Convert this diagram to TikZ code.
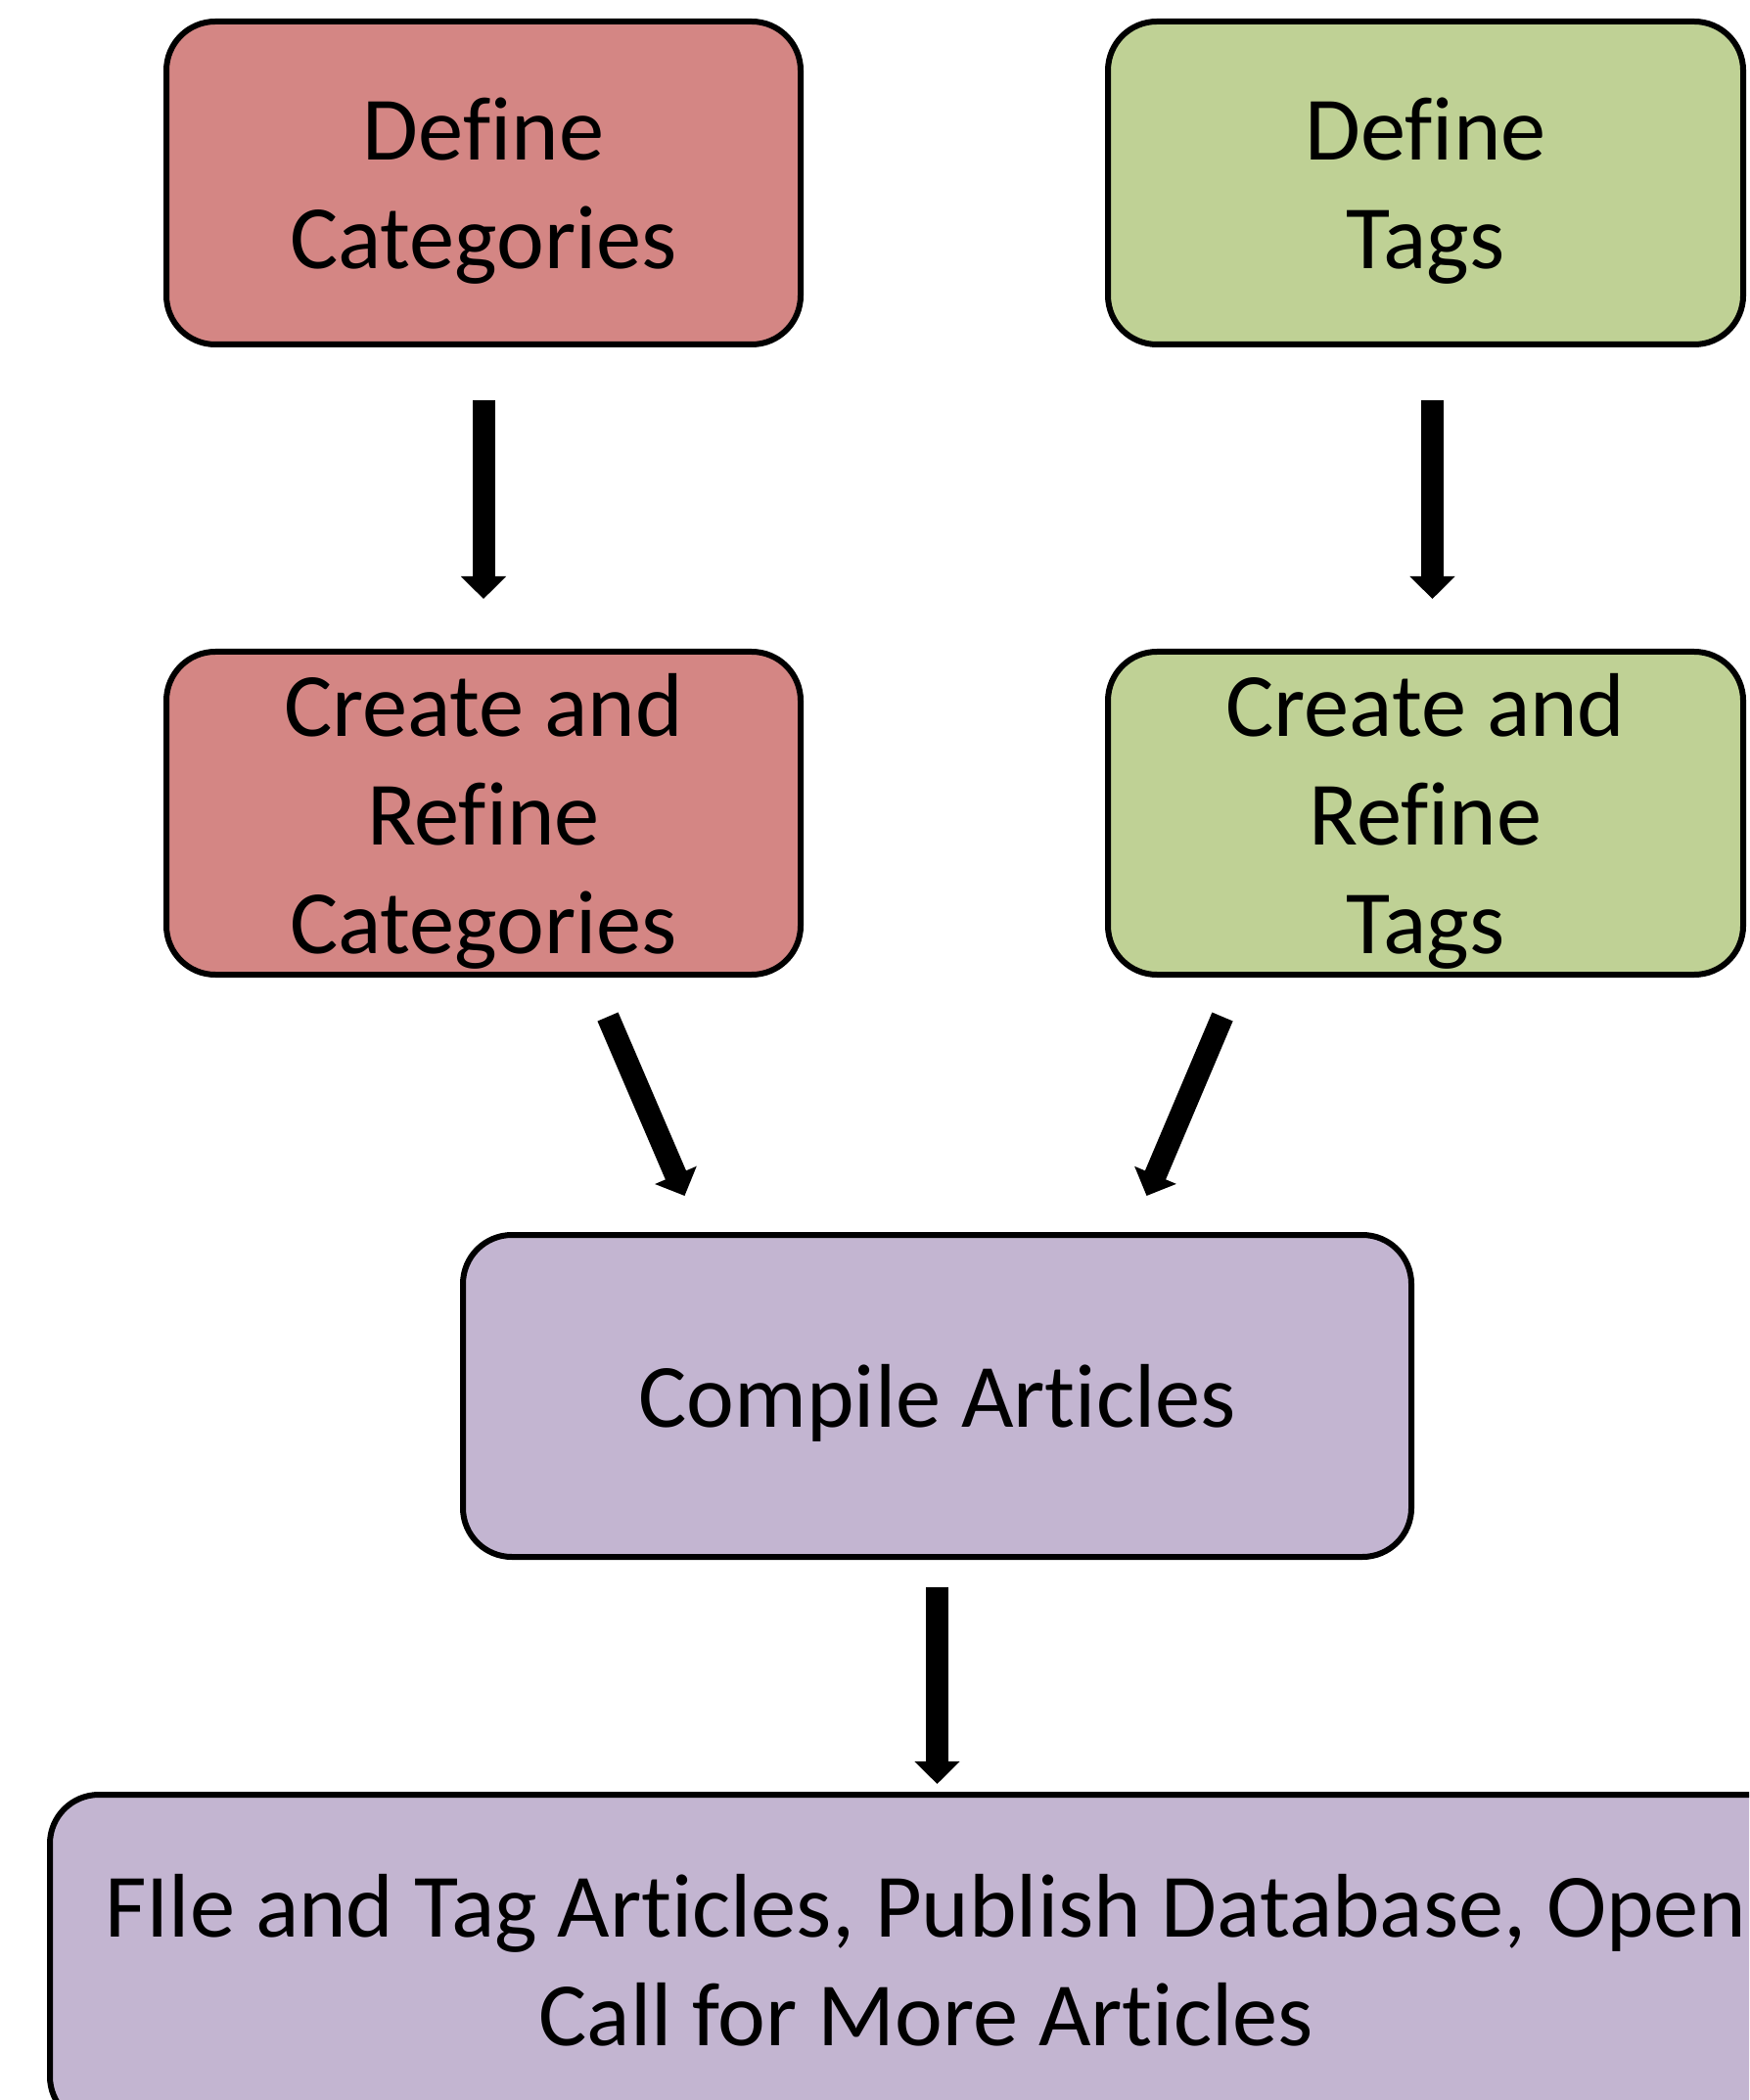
\documentclass[tikz,border=0pt]{standalone}
\usepackage{fontspec}
\setmainfont[Ligatures=CommonOff]{Carlito}
\usetikzlibrary{arrows.meta}

\definecolor{catred}{HTML}{D48684}
\definecolor{taggreen}{HTML}{BFD195}
\definecolor{artpurple}{HTML}{C3B5D1}

\begin{document}
\begin{tikzpicture}[
        stepbox/.style={draw, line width=0.06cm, rounded corners=0.5cm, inner sep=0pt,
            align=center, text depth=-0.8pt, font=\fontsize{26.3pt}{31.6pt}\selectfont},
        bigarrow/.style={line width=0.23cm, -{Triangle[width=0.45cm, length=0.23cm]}}
    ]
        \useasboundingbox (0, 0) rectangle (17.87, -21.46);
        \clip (0, 0) rectangle (17.87, -21.46);

        \node[stepbox, fill=catred, minimum width=6.48cm, minimum height=3.30cm] (dc) at (4.94, -1.87) {Define\\Categories};
        \node[stepbox, fill=taggreen, minimum width=6.49cm, minimum height=3.30cm] (dt) at (14.565, -1.87) {Define\\Tags};
        \node[stepbox, fill=catred, minimum width=6.48cm, minimum height=3.30cm] (cc) at (4.94, -8.31) {Create and\\Refine\\Categories};
        \node[stepbox, fill=taggreen, minimum width=6.49cm, minimum height=3.30cm] (ct) at (14.565, -8.31) {Create and\\Refine\\Tags};
        \node[stepbox, fill=artpurple, minimum width=9.69cm, minimum height=3.29cm] (ca) at (9.575, -14.265) {Compile Articles};
        \node[stepbox, fill=artpurple, minimum width=17.90cm, minimum height=3.38cm] (fa) at (9.46, -20.03) {FIle and Tag Articles, Publish Database, Open\\Call for More Articles};

        \draw[bigarrow, shorten <=0.54cm, shorten >=0.51cm] (dc.south) -- (cc.north);
        \draw[bigarrow, shorten <=0.54cm, shorten >=0.51cm] ([xshift=0.07cm]dt.south) -- ([xshift=0.07cm]ct.north);

        \draw[bigarrow] ([shift={(1.27, -0.40)}]cc.south) -- ([shift={(-2.58, 0.37)}]ca.north);
        \draw[bigarrow] ([shift={(-2.075, -0.40)}]ct.south) -- ([shift={(2.14, 0.37)}]ca.north);

        \draw[bigarrow, shorten <=0.28cm, shorten >=0.08cm] (ca.south) -- (ca.south |- fa.north);
\end{tikzpicture}
\end{document}
